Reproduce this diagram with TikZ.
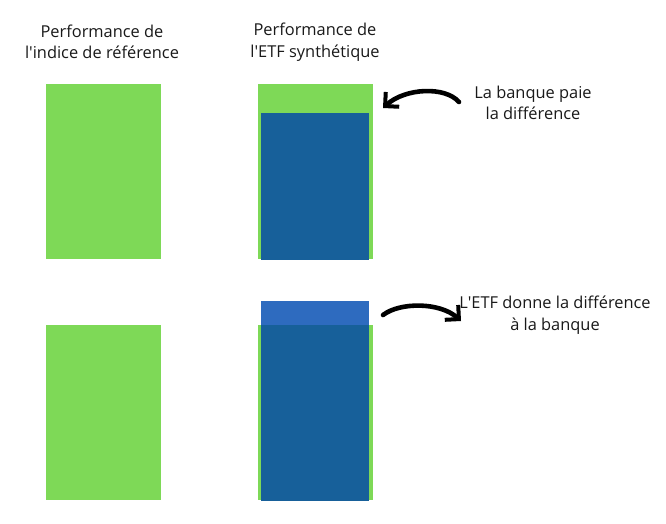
\documentclass[tikz,border=0pt]{standalone}
\usepackage{fontspec}
\setmainfont{Open Sans}
\usetikzlibrary{arrows.meta}

\newlength{\du}
\setlength{\du}{1pt}
\definecolor{bargreen}{rgb}{0.494118, 0.850980, 0.341176}
\definecolor{bardarkblue}{rgb}{0.090196, 0.376471, 0.603922}
\definecolor{barlightblue}{rgb}{0.180392, 0.419608, 0.749020}
\definecolor{labelcolor}{rgb}{0.100000, 0.100000, 0.100000}
\tikzset{
  bar/.style={anchor=north west, inner sep=0pt, outer sep=0pt, draw=none},
  label/.style={align=center, text=labelcolor, font=\fontsize{16.4}{21.5}\selectfont, inner sep=0pt},
  brush/.style={line width=4.6pt, line cap=round, -{Straight Barb[length=10pt, width=20pt, line width=4pt]}}
}

\begin{document}
\begin{tikzpicture}
\pgftransformyscale{-1}
\useasboundingbox (0\du,0\du) rectangle (666\du,524\du);
% headers
\node[label] (titleref) at (102\du,42\du){Performance de\\l\textquotesingle indice de référence};
\node[label] (titleetf) at (315\du,42\du){Performance de\\l\textquotesingle ETF synthétique};
% top row
\node[bar, fill=bargreen, minimum width=115\du, minimum height=175\du] (refup) at (46\du,84\du){};
\node[bar, fill=bargreen, minimum width=115\du, minimum height=175\du] (etfgreenup) at (258\du,84\du){};
\node[bar, fill=bardarkblue, minimum width=108\du, minimum height=147\du] (etfblueup) at (261\du,113\du){};
\node[label] (paie) at (533\du,103\du){La banque paie\\la différence};
\coordinate (paiestart) at (459\du,102\du);
\coordinate (paieend) at (383\du,108\du);
\draw[brush] (paiestart) .. controls (445\du,86\du) and (405\du,88\du) .. (paieend);
% bottom row
\node[bar, fill=bargreen, minimum width=115\du, minimum height=175\du] (refdown) at (46\du,325\du){};
\node[bar, fill=bargreen, minimum width=115\du, minimum height=175\du] (etfgreendown) at (258\du,325\du){};
\node[bar, fill=barlightblue, minimum width=108\du, minimum height=24\du] (etfextra) at (261\du,301\du){};
\node[bar, fill=bardarkblue, minimum width=108\du, minimum height=176\du] (etfbluedown) at (261\du,325\du){};
\node[label] (donne) at (555\du,315\du){L\textquotesingle ETF donne la différence\\à la banque};
\coordinate (donnestart) at (383\du,315\du);
\coordinate (donneend) at (461\du,321\du);
\draw[brush] (donnestart) .. controls (400\du,302\du) and (440\du,302\du) .. (donneend);
\end{tikzpicture}
\end{document}
